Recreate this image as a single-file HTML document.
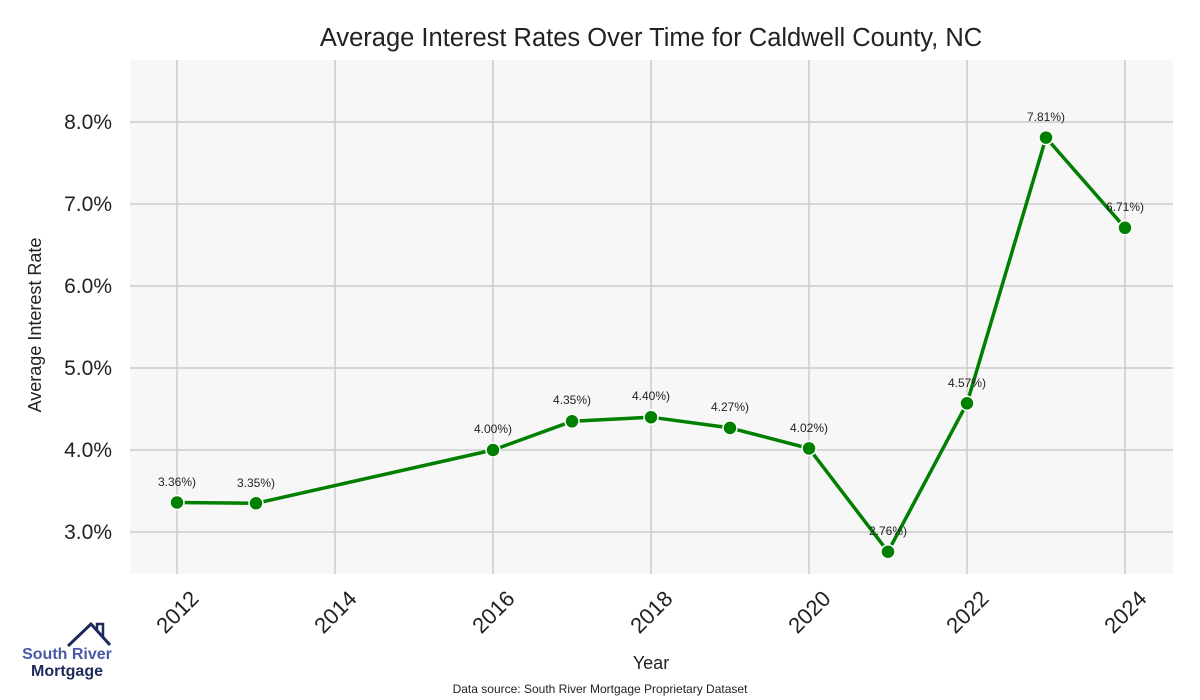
<!DOCTYPE html>
<html><head><style>body{margin:0;background:#fff}svg{display:block;font-family:"Liberation Sans",sans-serif}</style></head>
<body>
<svg width="1200" height="700" viewBox="0 0 1200 700">
<rect x="130" y="60" width="1043" height="514" fill="#f7f7f7"/>
<g stroke="#cccccc" stroke-width="1.5">
<line x1="130" x2="1173" y1="122" y2="122"/><line x1="130" x2="1173" y1="204" y2="204"/><line x1="130" x2="1173" y1="286" y2="286"/><line x1="130" x2="1173" y1="368" y2="368"/><line x1="130" x2="1173" y1="450" y2="450"/><line x1="130" x2="1173" y1="532" y2="532"/>
<line y1="60" y2="574" x1="177" x2="177"/><line y1="60" y2="574" x1="335" x2="335"/><line y1="60" y2="574" x1="493" x2="493"/><line y1="60" y2="574" x1="651" x2="651"/><line y1="60" y2="574" x1="809" x2="809"/><line y1="60" y2="574" x1="967" x2="967"/><line y1="60" y2="574" x1="1125" x2="1125"/>
</g>
<text x="651" y="46" font-size="25.5" text-anchor="middle" fill="#222">Average Interest Rates Over Time for Caldwell County, NC</text>
<g font-size="21" fill="#222" text-anchor="end">
<text x="112" y="129">8.0%</text><text x="112" y="211">7.0%</text><text x="112" y="293">6.0%</text><text x="112" y="375">5.0%</text><text x="112" y="457">4.0%</text><text x="112" y="539">3.0%</text>
</g>
<text transform="translate(41,325) rotate(-90)" font-size="18" text-anchor="middle" fill="#222">Average Interest Rate</text>
<g font-size="22" fill="#222" text-anchor="end">
<text transform="translate(200,600) rotate(-45)">2012</text>
<text transform="translate(358,600) rotate(-45)">2014</text>
<text transform="translate(516,600) rotate(-45)">2016</text>
<text transform="translate(674,600) rotate(-45)">2018</text>
<text transform="translate(832,600) rotate(-45)">2020</text>
<text transform="translate(990,600) rotate(-45)">2022</text>
<text transform="translate(1148,600) rotate(-45)">2024</text>
</g>
<text x="651" y="669" font-size="18" text-anchor="middle" fill="#222">Year</text>
<text x="600" y="693" font-size="12" text-anchor="middle" fill="#222">Data source: South River Mortgage Proprietary Dataset</text>
<polyline fill="none" stroke="#007f00" stroke-width="3.5" stroke-linejoin="round" points="177,502.5 256,503.3 493,450 572,421.3 651,417.2 730,427.9 809,448.4 888,551.7 967,403.3 1046,137.6 1125,227.8"/>
<g fill="#007f00" stroke="#fff" stroke-width="1.5">
<circle cx="177" cy="502.5" r="7"/><circle cx="256" cy="503.3" r="7"/><circle cx="493" cy="450" r="7"/><circle cx="572" cy="421.3" r="7"/><circle cx="651" cy="417.2" r="7"/><circle cx="730" cy="427.9" r="7"/><circle cx="809" cy="448.4" r="7"/><circle cx="888" cy="551.7" r="7"/><circle cx="967" cy="403.3" r="7"/><circle cx="1046" cy="137.6" r="7"/><circle cx="1125" cy="227.8" r="7"/>
</g>
<g font-size="12" fill="#222" text-anchor="middle">
<text x="177" y="486">3.36%)</text><text x="256" y="487">3.35%)</text><text x="493" y="433">4.00%)</text><text x="572" y="404">4.35%)</text><text x="651" y="400">4.40%)</text><text x="730" y="411">4.27%)</text><text x="809" y="432">4.02%)</text><text x="888" y="535">2.76%)</text><text x="967" y="387">4.57%)</text><text x="1046" y="121">7.81%)</text><text x="1125" y="211">6.71%)</text>
</g>
<polyline fill="none" stroke="#1f2a5c" stroke-width="3" points="68,646 91,624 110,645"/>
<polyline fill="none" stroke="#1f2a5c" stroke-width="2.5" points="97,630 97,624 103,624 103,637"/>
<text x="67" y="659" font-size="16" font-weight="bold" fill="#4a5aa8" text-anchor="middle">South River</text>
<text x="67" y="676" font-size="16" font-weight="bold" fill="#1f2a5c" text-anchor="middle">Mortgage</text>
</svg>
</body></html>
